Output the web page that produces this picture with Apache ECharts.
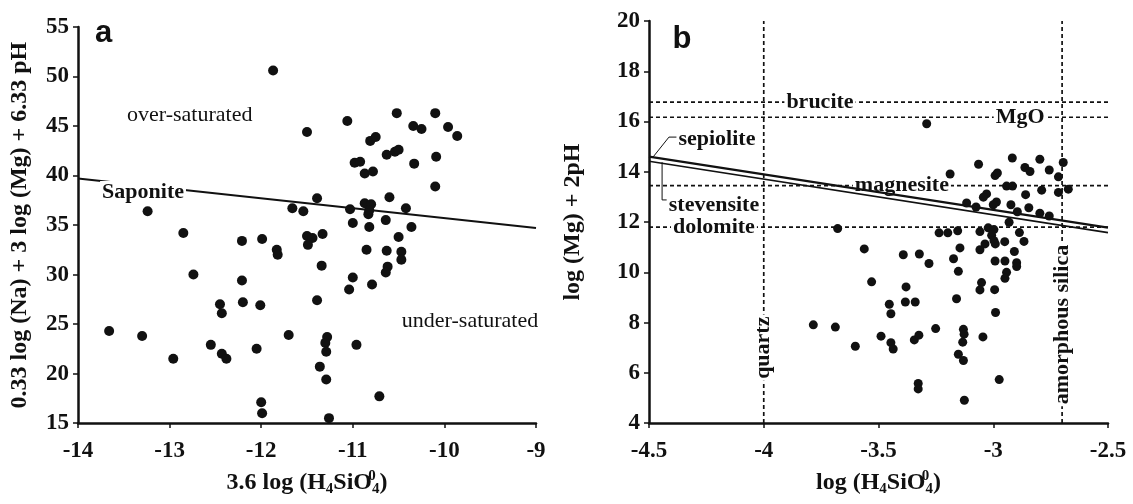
<!DOCTYPE html>
<html><head><meta charset="utf-8">
<script src="https://cdn.jsdelivr.net/npm/echarts@6/dist/echarts.min.js"></script>
<style>html,body{margin:0;padding:0;background:#fff}#c{width:1133px;height:504px}</style>
</head><body><div id="c"></div>
<script>
// ---------- data ----------
const ticksAX = [-14, -13, -12, -11, -10, -9];
const ticksAY = [15, 20, 25, 30, 35, 40, 45, 50, 55];
const ticksBX = [-4.5, -4, -3.5, -3, -2.5];
const ticksBY = [4, 6, 8, 10, 12, 14, 16, 18, 20];

const aX = [-11.87,-11.06,-11.50,-10.81,-10.75,-10.98,-10.92,-10.87,-10.78,-11.39,-11.66,-11.54,-11.03,-10.87,-10.80,-10.83,-10.82,-11.00,-10.82,-13.24,-12.85,-12.21,-11.99,-11.83,-11.82,-11.50,-11.44,-11.49,-11.33,-10.85,-10.36,-10.50,-10.63,-10.47,-10.47,-11.34,-11.00,-11.04,-10.79,-10.62,-10.64,-12.74,-12.21,-12.45,-12.43,-12.20,-12.01,-11.39,-13.66,-13.30,-12.55,-12.43,-12.38,-12.96,-12.05,-11.70,-11.28,-11.30,-11.29,-11.36,-11.29,-10.96,-12.00,-11.99,-11.26,-10.71,-10.52,-10.10,-10.34,-10.25,-9.96,-9.86,-10.63,-10.54,-10.50,-10.33,-10.09,-10.10,-10.60,-10.42,-10.64];
const aY = [50.6,45.5,44.4,43.5,43.9,41.3,41.4,40.2,40.4,37.7,36.7,36.4,36.6,37.2,37.1,36.1,36.5,35.2,34.8,36.4,34.2,33.4,33.6,32.5,32.0,33.9,33.7,33.0,34.1,32.5,34.8,33.8,32.4,32.3,31.5,30.9,29.7,28.5,29.0,30.8,30.2,30.0,29.4,27.0,26.1,27.2,26.9,27.4,24.3,23.8,22.9,22.0,21.5,21.5,22.5,23.9,23.7,23.1,22.2,20.7,19.4,22.9,17.1,16.0,15.5,17.7,46.3,46.3,45.0,44.7,44.9,44.0,42.1,42.4,42.6,41.2,41.9,38.9,37.8,36.7,35.5];

const bX = [-3.678,-3.562,-3.392,-3.322,-3.280,-3.530,-3.380,-3.383,-3.340,-3.453,-3.446,-3.784,-3.688,-3.601,-3.489,-3.446,-3.436,-3.344,-3.324,-3.251,-3.327,-3.327,-3.126,-2.974,-3.130,-3.127,-3.133,-3.152,-3.130,-3.045,-3.160,-2.990,-3.152,-3.173,-3.145,-3.236,-3.198,-3.155,-3.058,-3.036,-3.058,-3.022,-2.997,-3.007,-2.997,-2.991,-2.950,-2.992,-2.949,-2.908,-2.898,-2.898,-2.942,-2.949,-3.051,-3.058,-2.994,-2.886,-2.866,-2.931,-3.290,-2.917,-2.797,-2.695,-3.064,-2.862,-2.840,-2.756,-2.716,-3.188,-2.992,-2.982,-2.942,-2.916,-2.673,-2.716,-2.789,-2.859,-3.029,-3.043,-2.986,-3.000,-2.923,-3.116,-3.075,-2.845,-2.895,-2.797,-2.756];
const bY = [11.74,10.93,10.70,10.73,10.35,9.62,9.42,8.82,8.82,8.73,8.35,7.91,7.82,7.06,7.46,7.20,6.95,7.31,7.50,7.76,5.58,5.36,4.91,5.73,7.73,7.54,7.22,6.74,6.49,7.43,8.95,8.40,10.04,10.54,10.97,11.57,11.57,11.65,10.90,11.13,11.62,11.77,11.70,11.47,11.26,11.13,11.22,10.45,10.45,10.83,10.38,10.23,10.00,9.76,9.59,9.30,9.31,11.58,11.23,11.99,15.91,14.55,14.50,14.37,14.30,14.17,14.01,14.07,13.80,13.91,13.85,13.95,13.43,13.43,13.31,13.18,13.27,13.09,13.12,12.99,12.80,12.69,12.69,12.76,12.60,12.57,12.41,12.35,12.24];

const saponiteX = [-14, -9];
const saponiteY = [39.7, 34.7];
const sepioliteX = [-4.5, -2.5];
const sepioliteY = [14.6, 11.78];
const stevensiteX = [-4.5, -2.5];
const stevensiteY = [14.42, 11.58];

const hNames = ['brucite', 'MgO', 'magnesite', 'dolomite'];
const hValues = [16.77, 16.17, 13.45, 11.8];
const vNames = ['quartz', 'amorphous silica'];
const vValues = [-4.0, -2.7];

// ---------- chart ----------
const SERIF = 'Liberation Serif, Times New Roman, serif';
const SANS = 'Liberation Sans, Arial, sans-serif';
const INK = '#111111';
const zip = (xs, ys) => xs.map((x, i) => [x, ys[i]]);

function axis(ticks, extra) {
  return Object.assign({
    type: 'value',
    min: ticks[0], max: ticks[ticks.length - 1], interval: ticks[1] - ticks[0],
    axisLine: { show: true, onZero: false, lineStyle: { color: INK, width: 2.5 } },
    axisTick: { show: true, inside: false, length: 5, lineStyle: { color: INK, width: 1.5 } },
    axisLabel: { color: INK, fontFamily: SERIF, fontWeight: 'bold', fontSize: 23, margin: 9, showMinLabel: true, showMaxLabel: true },
    splitLine: { show: false },
    nameLocation: 'middle',
    nameTextStyle: { color: INK, fontFamily: SERIF, fontWeight: 'bold', fontSize: 24 }
  }, extra);
}

const richName = {
  color: INK, fontFamily: SERIF, fontWeight: 'bold', fontSize: 24, lineHeight: 32,
  rich: {
    sub: { fontFamily: SERIF, fontWeight: 'bold', fontSize: 15, lineHeight: 15, verticalAlign: 'bottom', color: INK, padding: [0, 0, 2, 0] },
    sup: { fontFamily: SERIF, fontWeight: 'bold', fontSize: 15, lineHeight: 15, verticalAlign: 'top', color: INK, width: 0, padding: [2, 0, 0, 0] }
  }
};

function dashed(xIdx, pts) {
  return { type: 'line', xAxisIndex: xIdx, yAxisIndex: xIdx, data: pts, symbol: 'none', silent: true, z: 1,
    lineStyle: { color: INK, width: 1.7, type: [4, 3] } };
}
function solid(xIdx, pts, w, z) {
  return { type: 'line', xAxisIndex: xIdx, yAxisIndex: xIdx, data: pts, symbol: 'none', silent: true, z: z || 2,
    lineStyle: { color: INK, width: w } };
}
function lbl(name, x, y, opts) {
  return { name: name, value: [x, y], label: Object.assign({}, opts || {}) };
}
function labelSeries(idx, data, z) {
  return { type: 'scatter', xAxisIndex: idx, yAxisIndex: idx, symbolSize: 1, itemStyle: { color: 'rgba(0,0,0,0)', opacity: 1 }, silent: true, z: z || 6,
    data: data,
    label: { show: true, position: 'inside', formatter: '{b}', color: INK, opacity: 1, fontFamily: SERIF, fontWeight: 'bold', fontSize: 22,
      align: 'center', verticalAlign: 'middle' } };
}
const whiteBg = { backgroundColor: '#fff', padding: [0, 2] };

const series = [];
// Panel a
series.push(solid(0, zip(saponiteX, saponiteY), 2));
series.push({ type: 'scatter', xAxisIndex: 0, yAxisIndex: 0, data: zip(aX, aY), symbolSize: 10, silent: true, z: 4,
  itemStyle: { color: INK, opacity: 1 } });
series.push(labelSeries(0, [
  lbl('a', -13.72, 54.3, { fontFamily: SANS, fontSize: 31 }),
  lbl('over-saturated', -12.78, 46.1, { fontWeight: 'normal' }),
  lbl('under-saturated', -9.72, 25.3, { fontWeight: 'normal' }),
  lbl('Saponite', -13.29, 38.35, whiteBg)
]));
// Panel b
hValues.forEach(v => series.push(dashed(1, [[ticksBX[0], v], [ticksBX[ticksBX.length - 1], v]])));
vValues.forEach(v => series.push(dashed(1, [[v, ticksBY[0]], [v, ticksBY[ticksBY.length - 1]]])));
series.push(solid(1, zip(sepioliteX, sepioliteY), 2.2, 3));
series.push(solid(1, zip(stevensiteX, stevensiteY), 1.6, 3));
series.push(solid(1, [[-4.483, 14.58], [-4.413, 15.38], [-4.378, 15.38]], 1, 3));
series.push(solid(1, [[-4.443, 14.38], [-4.443, 12.88], [-4.422, 12.88]], 1, 3));
series.push({ type: 'scatter', xAxisIndex: 1, yAxisIndex: 1, data: zip(bX, bY), symbolSize: 9, silent: true, z: 4,
  itemStyle: { color: INK, opacity: 1 } });
series.push(labelSeries(1, [
  lbl(hNames[2], -3.398, hValues[2], whiteBg)
], 2));
series.push(labelSeries(1, [
  lbl('b', -4.356, 19.25, { fontFamily: SANS, fontSize: 31 }),
  lbl(hNames[0], -3.755, hValues[0], whiteBg),
  lbl(hNames[1], -2.883, hValues[1], whiteBg),
  lbl(hNames[3], -4.217, hValues[3], whiteBg),
  lbl('sepiolite', -4.204, 15.31, whiteBg),
  lbl('stevensite', -4.217, 12.65, whiteBg),
  lbl(vNames[0], vValues[0], 7.0, Object.assign({ rotate: 90 }, whiteBg)),
  lbl(vNames[1], vValues[1], 7.92, Object.assign({ rotate: 90 }, whiteBg))
]));

const option = {
  animation: false,
  backgroundColor: '#fff',
  grid: [
    { left: 78, top: 27, width: 458, height: 408 },
    { left: 649, top: 21, width: 459, height: 414 }
  ],
  xAxis: [
    axis(ticksAX, { gridIndex: 0, name: '3.6 log (H{sub|4}SiO{sup|0}{sub|4})', nameGap: 42, nameTextStyle: richName }),
    axis(ticksBX, { gridIndex: 1, name: 'log (H{sub|4}SiO{sup|0}{sub|4})', nameGap: 42, nameTextStyle: richName })
  ],
  yAxis: [
    axis(ticksAY, { gridIndex: 0, name: '0.33 log (Na) + 3 log (Mg) + 6.33 pH', nameGap: 46, nameRotate: 90 }),
    axis(ticksBY, { gridIndex: 1, name: 'log (Mg) + 2pH', nameGap: 64, nameRotate: 90 })
  ],
  series: series
};
option.xAxis.forEach(a => { a.axisLabel.margin = 16; });

const chart = echarts.init(document.getElementById('c'), null, { renderer: 'canvas' });
chart.setOption(option);
</script>
</body></html>
